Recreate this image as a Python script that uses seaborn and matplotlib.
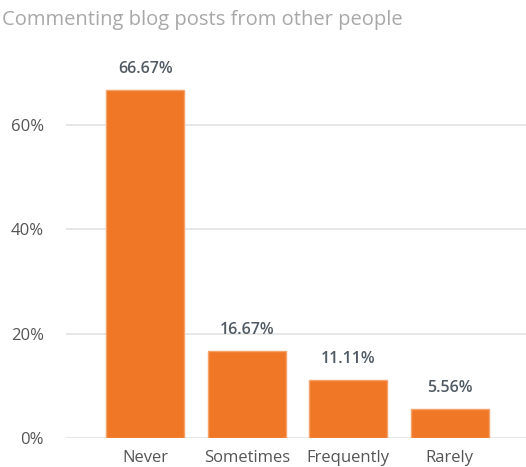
import matplotlib
matplotlib.use("Agg")
import matplotlib.pyplot as plt
import seaborn as sns
import pandas as pd

categories = ["Never", "Sometimes", "Frequently", "Rarely"]
shares = [66.67, 16.67, 11.11, 5.56]
value_labels = ["66.67%", "16.67%", "11.11%", "5.56%"]
y_ticks = [0, 20, 40, 60]
y_tick_labels = ["0%", "20%", "40%", "60%"]
title = "Commenting blog posts from other people"

df = pd.DataFrame({"answer": categories, "share": shares})

sns.set_theme(style="white")
plt.rcParams["font.family"] = ["Open Sans", "DejaVu Sans"]

fig = plt.figure(figsize=(5.26, 4.67), dpi=100)
ax = fig.add_axes([0.1255, 0.0621, 0.8745, 0.805])

sns.barplot(data=df, x="answer", y="share", color="#F07726", width=0.77,
            saturation=1, edgecolor="#F5A36B", linewidth=1.0, ax=ax, zorder=3)

for i, (v, lab) in enumerate(zip(shares, value_labels)):
    ax.text(i, v + 2.4, lab, ha="center", va="bottom", fontsize=11.5,
            color="#505A64", fontweight="semibold")

ax.set_xlim(-0.78, 3.75)
ax.set_ylim(0, 72)
ax.set_yticks(y_ticks)
ax.set_yticklabels(y_tick_labels)
ax.grid(axis="y", color="#E3E3E3", linewidth=1.2, zorder=0)
ax.set_xlabel("")
ax.set_ylabel("")
for s in ax.spines.values():
    s.set_visible(False)
ax.tick_params(axis="both", length=0, labelsize=12, colors="#555555")
ax.tick_params(axis="y", pad=16)
ax.tick_params(axis="x", pad=9)

fig.text(0.004, 0.958, title, fontsize=14.5, color="#A8A8A8", ha="left", va="center")

fig.savefig("out.png", dpi=100, facecolor="white")
